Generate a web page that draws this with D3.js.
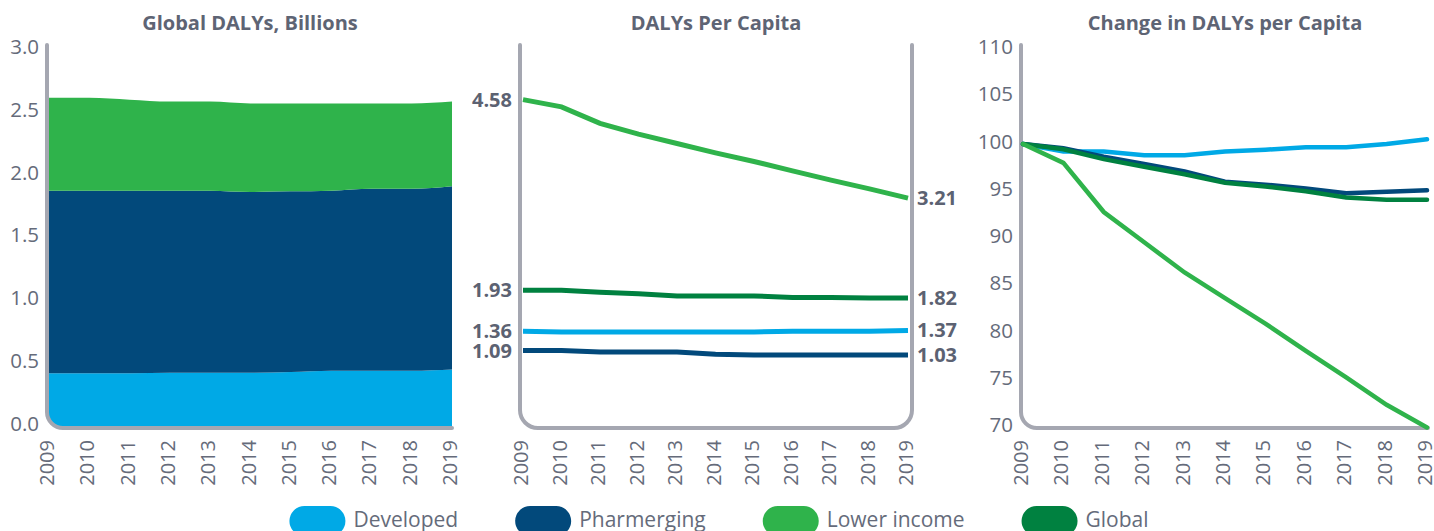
<!DOCTYPE html>
<html>
<head>
<meta charset="utf-8">
<script src="https://cdn.jsdelivr.net/npm/d3@7"></script>
<style>
  body { margin: 0; background: #fff; }
  svg text { font-family: "Open Sans", "Noto Sans", sans-serif; }
</style>
</head>
<body>
<div id="chart"></div>
<script>
// data
const years = [2009, 2010, 2011, 2012, 2013, 2014, 2015, 2016, 2017, 2018, 2019]
const series = ["Developed", "Pharmerging", "Lower income", "Global"]

// global DALYs, billions (stacked)
const dalysDeveloped   = [0.42, 0.42, 0.42, 0.425, 0.425, 0.425, 0.43, 0.44, 0.44, 0.44, 0.45]
const dalysPharmerging = [1.455, 1.455, 1.455, 1.45, 1.45, 1.44, 1.44, 1.435, 1.45, 1.45, 1.46]
const dalysLowerIncome = [0.74, 0.74, 0.725, 0.71, 0.71, 0.705, 0.70, 0.695, 0.68, 0.68, 0.675]

// DALYs per capita
const pcDeveloped   = [1.36, 1.35, 1.35, 1.35, 1.35, 1.35, 1.35, 1.36, 1.36, 1.36, 1.37]
const pcPharmerging = [1.09, 1.09, 1.07, 1.07, 1.07, 1.04, 1.03, 1.03, 1.03, 1.03, 1.03]
const pcLowerIncome = [4.58, 4.48, 4.25, 4.10, 3.97, 3.84, 3.72, 3.59, 3.46, 3.34, 3.21]
const pcGlobal      = [1.93, 1.93, 1.90, 1.88, 1.85, 1.85, 1.85, 1.83, 1.83, 1.82, 1.82]

// change in DALYs per capita (2009 = 100)
const idxDeveloped   = [100, 99.2, 99.2, 98.8, 98.8, 99.2, 99.4, 99.65, 99.65, 100.0, 100.5]
const idxPharmerging = [100, 99.55, 98.65, 97.9, 97.1, 96.0, 95.7, 95.3, 94.8, 94.95, 95.1]
const idxGlobal      = [100, 99.45, 98.4, 97.6, 96.8, 95.9, 95.5, 95.0, 94.35, 94.1, 94.1]
const idxLowerIncome = [100, 98.0, 92.8, 89.6, 86.4, 83.7, 81.0, 78.1, 75.3, 72.4, 70.0]

const leftTicks  = [0, 0.5, 1.0, 1.5, 2.0, 2.5, 3.0]
const rightTicks = [70, 75, 80, 85, 90, 95, 100, 105, 110]

const colors = {
  "Developed": "#00a9e6",
  "Pharmerging": "#02497b",
  "Lower income": "#2fb34b",
  "Global": "#008140"
}
const axisColor = "#a5a7b1"
const textColor = "#656b7a"
const boldColor = "#5c6272"

const width = 1434
const height = 531
const axisY = 428

const svg = d3.select("#chart")
  .append("svg")
    .attr("width", width)
    .attr("height", height)

// draw an L or U shaped axis with rounded bottom corners
function axisPath(x0, x1, r, closedRight) {
  let p = `M${x0},45 V${axisY - r} A${r},${r} 0 0 0 ${x0 + r},${axisY}`
  if (closedRight) {
    p += ` H${x1 - r} A${r},${r} 0 0 0 ${x1},${axisY - r} V45`
  } else {
    p += ` H${x1}`
  }
  return p
}

function title(cx, label) {
  svg.append("text")
    .attr("x", cx)
    .attr("y", 30)
    .attr("text-anchor", "middle")
    .attr("font-size", 20)
    .attr("font-weight", 700)
    .attr("fill", "#5e6474")
    .text(label)
}

function yearLabels(x) {
  svg.append("g")
    .selectAll("text")
    .data(years)
    .join("text")
      .attr("transform", d => `translate(${x(d) - 2},440) rotate(-90)`)
      .attr("text-anchor", "end")
      .attr("dy", "0.35em")
      .attr("font-size", 20)
      .attr("fill", textColor)
      .text(d => d)
}

function yLabels(y, ticks, xRight, fmt) {
  svg.append("g")
    .selectAll("text")
    .data(ticks)
    .join("text")
      .attr("x", xRight)
      .attr("y", d => y(d))
      .attr("dy", "0.22em")
      .attr("text-anchor", "end")
      .attr("font-size", 20.5)
      .attr("fill", textColor)
      .text(fmt)
}

// ---------- panel 1: stacked area ----------
const x1 = d3.scaleLinear().domain([2009, 2019]).range([49, 452])
const y1 = d3.scaleLinear().domain([0, 3]).range([426, 49.5])

const stackRows = years.map((yr, i) => ({
  year: yr,
  "Developed": dalysDeveloped[i],
  "Pharmerging": dalysPharmerging[i],
  "Lower income": dalysLowerIncome[i]
}))
const stacked = d3.stack().keys(["Developed", "Pharmerging", "Lower income"])(stackRows)

svg.append("clipPath").attr("id", "clipLeft")
  .append("rect")
    .attr("x", 47).attr("y", 0)
    .attr("width", 440).attr("height", 427)
    .attr("rx", 16)

const area = d3.area()
  .x(d => x1(d.data.year))
  .y0(d => y1(d[0]))
  .y1(d => y1(d[1]))
  .curve(d3.curveMonotoneX)

svg.append("g")
  .attr("clip-path", "url(#clipLeft)")
  .selectAll("path")
  .data(stacked)
  .join("path")
    .attr("d", area)
    .attr("fill", d => colors[d.key])

svg.append("path")
  .attr("d", axisPath(47, 452, 16, false))
  .attr("fill", "none")
  .attr("stroke", axisColor)
  .attr("stroke-width", 4)
  .attr("stroke-linecap", "round")

yLabels(y1, leftTicks, 39, d => d3.format(".1f")(d))
yearLabels(x1)
title(250, "Global DALYs, Billions")

// ---------- panel 2: per capita lines ----------
const x2 = d3.scaleLinear().domain([2009, 2019]).range([523, 908])
const y2 = d3.scaleLinear().domain([0, 5.34]).range([429, 45])

const pcSeries = [
  { key: "Pharmerging", values: pcPharmerging },
  { key: "Developed", values: pcDeveloped },
  { key: "Global", values: pcGlobal },
  { key: "Lower income", values: pcLowerIncome }
]

const line2 = d3.line()
  .x((d, i) => x2(years[i]))
  .y(d => y2(d))

svg.append("g")
  .selectAll("path")
  .data(pcSeries)
  .join("path")
    .attr("d", d => line2(d.values))
    .attr("fill", "none")
    .attr("stroke", d => colors[d.key])
    .attr("stroke-width", 5)

svg.append("path")
  .attr("d", axisPath(520, 912, 18, true))
  .attr("fill", "none")
  .attr("stroke", axisColor)
  .attr("stroke-width", 4)
  .attr("stroke-linecap", "round")

// start / end value labels
svg.append("g")
  .selectAll("text")
  .data(pcSeries)
  .join("text")
    .attr("x", 512)
    .attr("y", d => y2(d.values[0]))
    .attr("dy", "0.35em")
    .attr("text-anchor", "end")
    .attr("font-size", 20)
    .attr("font-weight", 700)
    .attr("fill", boldColor)
    .text(d => d3.format(".2f")(d.values[0]))

svg.append("g")
  .selectAll("text")
  .data(pcSeries)
  .join("text")
    .attr("x", 917)
    .attr("y", d => y2(d.values[d.values.length - 1]))
    .attr("dy", "0.35em")
    .attr("font-size", 20)
    .attr("font-weight", 700)
    .attr("fill", boldColor)
    .text(d => d3.format(".2f")(d.values[d.values.length - 1]))

yearLabels(x2)
title(716, "DALYs Per Capita")

// ---------- panel 3: index lines ----------
const x3 = d3.scaleLinear().domain([2009, 2019]).range([1023, 1427])
const y3 = d3.scaleLinear().domain([70, 110]).range([427.5, 49.5])

const idxSeries = [
  { key: "Developed", values: idxDeveloped },
  { key: "Pharmerging", values: idxPharmerging },
  { key: "Global", values: idxGlobal },
  { key: "Lower income", values: idxLowerIncome }
]

const line3 = d3.line()
  .x((d, i) => x3(years[i]))
  .y(d => y3(d))

svg.append("path")
  .attr("d", axisPath(1021, 1428, 16, false))
  .attr("fill", "none")
  .attr("stroke", axisColor)
  .attr("stroke-width", 4)
  .attr("stroke-linecap", "round")

svg.append("g")
  .selectAll("path")
  .data(idxSeries)
  .join("path")
    .attr("d", d => line3(d.values))
    .attr("fill", "none")
    .attr("stroke", d => colors[d.key])
    .attr("stroke-width", 4.5)
    .attr("stroke-linecap", "round")

yLabels(y3, rightTicks, 1013, d => d)
yearLabels(x3)
title(1225, "Change in DALYs per Capita")

// ---------- legend ----------
const legend = svg.append("g")
const items = legend.selectAll("g")
  .data(series)
  .join("g")

items.append("rect")
  .attr("y", 506)
  .attr("width", 56)
  .attr("height", 30)
  .attr("rx", 15)
  .attr("fill", d => colors[d])

items.append("text")
  .attr("x", 64)
  .attr("y", 527)
  .attr("font-size", 21)
  .attr("fill", textColor)
  .text(d => d)

// lay the items out in a row and center it
const gap = 57
let cursor = 0
items.each(function() {
  const w = 64 + this.querySelector("text").getComputedTextLength()
  d3.select(this).attr("transform", `translate(${cursor},0)`)
  cursor += w + gap
})
const total = cursor - gap
legend.attr("transform", `translate(${719 - total / 2},0)`)
</script>
</body>
</html>
